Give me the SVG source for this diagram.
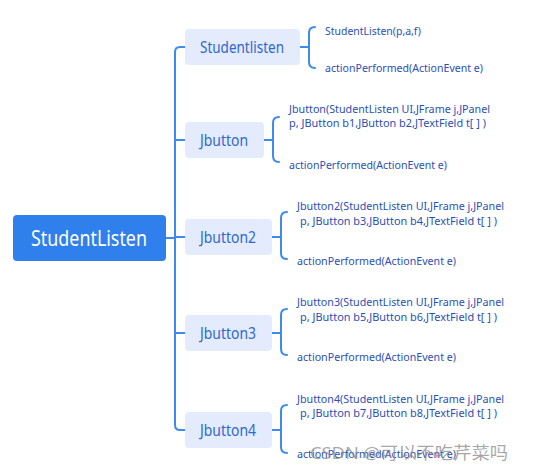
<svg xmlns="http://www.w3.org/2000/svg" width="556" height="470" viewBox="0 0 556 470">
<style>
.l1 rect{fill:#e3ebfd}
.l1 text{font-family:"Noto Sans","Open Sans",sans-serif;font-size:17px;fill:#2f68cf;text-anchor:middle}
.c{font-family:"Noto Sans","Open Sans",sans-serif;font-size:11px;fill:#2c4fb3}
.ln{fill:none;stroke:#3d8bf0;stroke-width:2;stroke-linecap:round}
</style>
<rect width="556" height="470" fill="#ffffff"/>
<g id="connectors">
<path class="ln" d="M166 238 H175"/>
<path class="ln" d="M185 47 H180 Q175 47 175 52 V425 Q175 430 180 430 H185"/>
<path class="ln" d="M175 140 H185 M175 237 H185 M175 333 H185"/>
<path class="ln" d="M300 47 H309 M315 27 Q309 27 309 33 V62 Q309 68 315 68"/>
<path class="ln" d="M264 140 H273 M279 117 Q273 117 273 123 V156 Q273 162 279 162"/>
<path class="ln" d="M272 237 H281 M287 212 Q281 212 281 218 V253 Q281 259 287 259"/>
<path class="ln" d="M272 333 H281 M287 309 Q281 309 281 315 V349 Q281 355 287 355"/>
<path class="ln" d="M272 430 H281 M287 405 Q281 405 281 411 V447 Q281 453 287 453"/>
</g>
<g id="root">
<rect x="13" y="215" width="153" height="46" rx="4" fill="#2f80ed"/>
<text x="89" y="246" font-family="Noto Sans,Open Sans,sans-serif" font-size="22" fill="#ffffff" text-anchor="middle" textLength="116" lengthAdjust="spacingAndGlyphs">StudentListen</text>
</g>
<g id="studentlisten" class="l1">
<rect x="185" y="29" width="115" height="36" rx="4"/>
<text x="242" y="53" textLength="84" lengthAdjust="spacingAndGlyphs">Studentlisten</text>
</g>
<g id="studentlisten-children">
<text class="c" x="325" y="35" textLength="96" lengthAdjust="spacingAndGlyphs">StudentListen(p,a,f)</text>
<text class="c" x="325" y="72" textLength="158" lengthAdjust="spacingAndGlyphs">actionPerformed(ActionEvent e)</text>
</g>
<g id="jbutton" class="l1">
<rect x="185" y="122" width="79" height="36" rx="4"/>
<text x="224" y="146" textLength="48" lengthAdjust="spacingAndGlyphs">Jbutton</text>
</g>
<g id="jbutton-children">
<text class="c" x="289" y="113" textLength="201" lengthAdjust="spacingAndGlyphs">Jbutton(StudentListen UI,JFrame j,JPanel</text>
<text class="c" x="289" y="127" textLength="197" lengthAdjust="spacingAndGlyphs">p, JButton b1,JButton b2,JTextField t[ ] )</text>
<text class="c" x="289" y="169" textLength="158" lengthAdjust="spacingAndGlyphs">actionPerformed(ActionEvent e)</text>
</g>
<g id="jbutton2" class="l1">
<rect x="185" y="219" width="87" height="36" rx="4"/>
<text x="228" y="243" textLength="56" lengthAdjust="spacingAndGlyphs">Jbutton2</text>
</g>
<g id="jbutton2-children">
<text class="c" x="297" y="210" textLength="207" lengthAdjust="spacingAndGlyphs">Jbutton2(StudentListen UI,JFrame j,JPanel</text>
<text class="c" x="300" y="225" textLength="197" lengthAdjust="spacingAndGlyphs">p, JButton b3,JButton b4,JTextField t[ ] )</text>
<text class="c" x="297" y="265" textLength="159" lengthAdjust="spacingAndGlyphs">actionPerformed(ActionEvent e)</text>
</g>
<g id="jbutton3" class="l1">
<rect x="185" y="315" width="87" height="36" rx="4"/>
<text x="228" y="339" textLength="56" lengthAdjust="spacingAndGlyphs">Jbutton3</text>
</g>
<g id="jbutton3-children">
<text class="c" x="297" y="306" textLength="207" lengthAdjust="spacingAndGlyphs">Jbutton3(StudentListen UI,JFrame j,JPanel</text>
<text class="c" x="300" y="321" textLength="197" lengthAdjust="spacingAndGlyphs">p, JButton b5,JButton b6,JTextField t[ ] )</text>
<text class="c" x="297" y="361" textLength="159" lengthAdjust="spacingAndGlyphs">actionPerformed(ActionEvent e)</text>
</g>
<g id="jbutton4" class="l1">
<rect x="185" y="412" width="87" height="36" rx="4"/>
<text x="228" y="436" textLength="56" lengthAdjust="spacingAndGlyphs">Jbutton4</text>
</g>
<g id="jbutton4-children">
<text class="c" x="297" y="403" textLength="207" lengthAdjust="spacingAndGlyphs">Jbutton4(StudentListen UI,JFrame j,JPanel</text>
<text class="c" x="300" y="417" textLength="197" lengthAdjust="spacingAndGlyphs">p, JButton b7,JButton b8,JTextField t[ ] )</text>
<text class="c" x="297" y="458" textLength="159" lengthAdjust="spacingAndGlyphs">actionPerformed(ActionEvent e)</text>
</g>
<text x="310" y="459" font-family="Noto Sans,Noto Sans CJK SC,sans-serif" font-size="17" fill="#8a8a8a" fill-opacity="0.75" textLength="198" lengthAdjust="spacingAndGlyphs">CSDN @可以不吃芹菜吗</text>
</svg>
